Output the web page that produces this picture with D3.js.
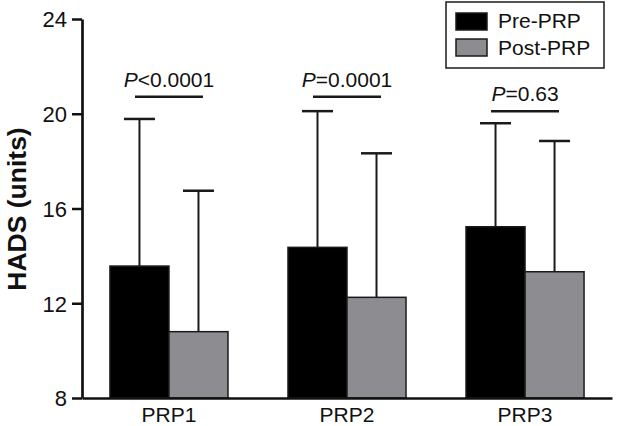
<!DOCTYPE html>
<html>
<head>
<meta charset="utf-8">
<script src="https://cdn.jsdelivr.net/npm/d3@7"></script>
<style>
  html, body { margin: 0; padding: 0; background: #fff; }
  svg { display: block; }
  text { font-family: "Liberation Sans", Arial, Helvetica, sans-serif; fill: #111; }
</style>
</head>
<body>
<svg id="chart" width="618" height="426"></svg>
<script>
// ---- data ----
const categories = ["PRP1", "PRP2", "PRP3"];
const seriesNames = ["Pre-PRP", "Post-PRP"];
const preMeans = [13.57, 14.36, 15.23];
const postMeans = [10.80, 12.25, 13.33];
const preUpper = [19.78, 20.11, 19.60];   // mean + SD (top of error bar)
const postUpper = [16.75, 18.33, 18.85];
const pLabelsPrefix = ["<0.0001", "=0.0001", "=0.63"];
const pLineLevels = [20.72, 20.72, 20.11];
const yTicks = [8, 12, 16, 20, 24];

const colors = ["#000000", "#8d8c91"];

const svg = d3.select("#chart");

const x0 = d3.scaleBand().domain(categories).range([82, 612]).paddingInner(0.337).paddingOuter(0.157);
const x1 = d3.scaleBand().domain(seriesNames).range([0, x0.bandwidth()]).padding(0);
const y = d3.scaleLinear().domain([8, 24]).range([398, 19]);

const rows = categories.map((c, i) => ({
  cat: c,
  vals: [
    { s: seriesNames[0], mean: preMeans[i], up: preUpper[i], color: colors[0] },
    { s: seriesNames[1], mean: postMeans[i], up: postUpper[i], color: colors[1] }
  ]
}));

// bars
const g = svg.append("g");
const groups = g.selectAll("g.grp").data(rows).join("g")
  .attr("class", "grp")
  .attr("transform", d => `translate(${x0(d.cat)},0)`);

// error bars (drawn first so bars cover the lower part)
groups.selectAll("g.err").data(d => d.vals).join("g").attr("class", "err")
  .each(function(d) {
    const cx = x1(d.s) + x1.bandwidth() / 2;
    const sel = d3.select(this);
    sel.append("line").attr("x1", cx).attr("x2", cx).attr("y1", y(d.mean)).attr("y2", y(d.up))
      .attr("stroke", "#1a1a1a").attr("stroke-width", 2);
    sel.append("line").attr("x1", cx - 15.5).attr("x2", cx + 15.5).attr("y1", y(d.up)).attr("y2", y(d.up))
      .attr("stroke", "#1a1a1a").attr("stroke-width", 2.5);
  });

groups.selectAll("rect").data(d => d.vals).join("rect")
  .attr("x", d => x1(d.s))
  .attr("y", d => y(d.mean))
  .attr("width", x1.bandwidth())
  .attr("height", d => y(8) - y(d.mean))
  .attr("fill", d => d.color)
  .attr("stroke", "#1a1a1a")
  .attr("stroke-width", 1.5);

// significance annotations
rows.forEach((d, i) => {
  const cx = x0(d.cat) + x0.bandwidth() / 2;
  const ly = y(pLineLevels[i]);
  svg.append("line").attr("x1", cx - 34).attr("x2", cx + 34).attr("y1", ly).attr("y2", ly)
    .attr("stroke", "#1a1a1a").attr("stroke-width", 2.5);
  const t = svg.append("text").attr("x", cx).attr("y", ly - 10)
    .attr("text-anchor", "middle").style("font-size", "21px");
  t.append("tspan").style("font-style", "italic").text("P");
  t.append("tspan").text(pLabelsPrefix[i]);
});

// y axis
const yAxis = svg.append("g").attr("transform", "translate(82,0)")
  .call(d3.axisLeft(y).tickValues(yTicks).tickSize(10).tickSizeOuter(0).tickPadding(5).tickFormat(d3.format("d")));
yAxis.select(".domain").attr("stroke", "#111").attr("stroke-width", 2.7);
yAxis.selectAll(".tick line").attr("stroke", "#111").attr("stroke-width", 2.5);
yAxis.selectAll(".tick text").style("font-size", "22px").attr("fill", "#111").attr("dy", "0.36em");

// x axis
const xAxis = svg.append("g").attr("transform", "translate(0,398)")
  .call(d3.axisBottom(x0).tickSize(0).tickSizeOuter(0).tickPadding(9));
xAxis.select(".domain").attr("stroke", "#111").attr("stroke-width", 2.7);
xAxis.selectAll(".tick text").style("font-size", "21px").attr("fill", "#111");

// y axis title
svg.append("text")
  .attr("transform", "translate(26,209) rotate(-90)")
  .attr("text-anchor", "middle")
  .style("font-size", "26.5px").style("font-weight", "bold")
  .text("HADS (units)");

// legend
const leg = svg.append("g");
leg.append("rect").attr("x", 446).attr("y", 2).attr("width", 158).attr("height", 66)
  .attr("fill", "#fff").attr("stroke", "#1a1a1a").attr("stroke-width", 1.5);
seriesNames.forEach((s, i) => {
  leg.append("rect").attr("x", 456).attr("y", 13 + i * 26).attr("width", 31).attr("height", 17)
    .attr("fill", colors[i]).attr("stroke", "#1a1a1a").attr("stroke-width", 1.5);
  leg.append("text").attr("x", 498).attr("y", 28 + i * 27).style("font-size", "21px").text(s);
});
</script>
</body>
</html>
